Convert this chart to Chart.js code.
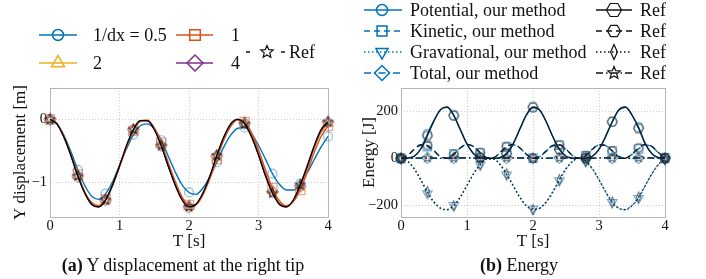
<!DOCTYPE html>
<html>
<head>
<meta charset="utf-8">
<script src="https://cdn.jsdelivr.net/npm/chart.js@4.4.1/dist/chart.umd.min.js"></script>
<style>
  html, body { margin: 0; padding: 0; background: #fff; }
  #wrap { position: relative; width: 706px; height: 279px; overflow: hidden; }
  .panel { position: absolute; top: 0; }
  .cap { position: absolute; top: 255px; font: 18px "Liberation Serif", "Times New Roman", serif;
         line-height: 20px; white-space: nowrap; transform: translateX(-50%); color: #111; }
</style>
</head>
<body>
<div id="wrap">
  <canvas id="dispChart" class="panel" width="355" height="279" style="left:0"></canvas>
  <canvas id="energyChart" class="panel" width="351" height="279" style="left:355px"></canvas>
  <div class="cap" style="left:183px"><b>(a)</b> Y displacement at the right tip</div>
  <div class="cap" style="left:519px"><b>(b)</b> Energy</div>
</div>
<script>
// time samples [s]
const times = [0, 0.1, 0.2, 0.3, 0.4, 0.5, 0.6, 0.7, 0.8, 0.9, 1.0, 1.1, 1.2, 1.3, 1.4, 1.5, 1.6, 1.7, 1.8, 1.9, 2.0,
  2.1, 2.2, 2.3, 2.4, 2.5, 2.6, 2.7, 2.8, 2.9, 3.0, 3.1, 3.2, 3.3, 3.4, 3.5, 3.6, 3.7, 3.8, 3.9, 4.0]
const xTicks = [0, 1, 2, 3, 4]
const dispTicks = [-1, 0]
const energyTicks = [-200, 0, 200]

// (a) Y displacement [m]
const dispDx05 = [0, -0.07, -0.25, -0.51, -0.8, -1.05, -1.22, -1.27, -1.18, -0.99, -0.73, -0.47, -0.24, -0.1,
  -0.07, -0.15, -0.33, -0.58, -0.83, -1.04, -1.16, -1.19, -1.09, -0.91, -0.68, -0.44, -0.25, -0.14,
  -0.13, -0.23, -0.41, -0.63, -0.86, -1.03, -1.12, -1.12, -1.02, -0.85, -0.64, -0.44, -0.27]
const dispDx1 = [0, -0.07, -0.27, -0.56, -0.87, -1.15, -1.32, -1.37, -1.27, -1.05, -0.75, -0.44, -0.18, -0.03,
  -0.01, -0.13, -0.37, -0.68, -0.98, -1.23, -1.36, -1.35, -1.2, -0.94, -0.63, -0.33, -0.11, 0,
  -0.04, -0.21, -0.48, -0.8, -1.09, -1.29, -1.37, -1.31, -1.12, -0.84, -0.53, -0.27, -0.1]
const dispDx2 = [0, -0.07, -0.28, -0.57, -0.89, -1.16, -1.34, -1.38, -1.28, -1.05, -0.75, -0.43, -0.17, -0.02,
  -0.01, -0.14, -0.4, -0.71, -1.01, -1.26, -1.38, -1.35, -1.19, -0.92, -0.6, -0.3, -0.09, 0,
  -0.05, -0.24, -0.52, -0.85, -1.13, -1.32, -1.38, -1.3, -1.08, -0.79, -0.47, -0.21, -0.06]
const dispDx4 = [0, -0.07, -0.28, -0.57, -0.9, -1.17, -1.35, -1.39, -1.28, -1.04, -0.74, -0.42, -0.16, -0.02,
  -0.02, -0.15, -0.41, -0.73, -1.03, -1.27, -1.39, -1.35, -1.18, -0.91, -0.58, -0.29, -0.08, 0,
  -0.06, -0.26, -0.55, -0.88, -1.15, -1.34, -1.39, -1.29, -1.06, -0.76, -0.44, -0.18, -0.04]
const dispRef = [0, -0.07, -0.28, -0.57, -0.9, -1.17, -1.35, -1.39, -1.28, -1.04, -0.74, -0.42, -0.16, -0.02,
  -0.02, -0.16, -0.42, -0.74, -1.04, -1.28, -1.39, -1.35, -1.17, -0.9, -0.57, -0.28, -0.07, 0,
  -0.07, -0.28, -0.57, -0.9, -1.17, -1.35, -1.39, -1.28, -1.04, -0.74, -0.42, -0.16, -0.04]

// (b) Energy [J]
const potentialOurs = [0, 1, 9, 41, 104, 162, 208, 218, 181, 121, 61, 20, 3, 0,
  0, 3, 20, 62, 125, 185, 216, 206, 156, 93, 40, 9, 1, 0,
  1, 9, 39, 94, 154, 205, 218, 184, 133, 64, 21, 3, 0]
const kineticOurs = [0, 12, 38, 56, 50, 31, 7, 1, 19, 44, 59, 50, 23, 3,
  3, 24, 48, 58, 44, 17, 1, 7, 31, 52, 56, 38, 12, 0,
  11, 38, 57, 54, 32, 8, 1, 17, 40, 57, 50, 24, 2]
const gravOurs = [0, -12, -45, -93, -150, -188, -213, -218, -200, -163, -115, -65, -28, -3,
  -3, -27, -70, -118, -166, -203, -215, -212, -187, -144, -95, -46, -13, 0,
  -14, -46, -92, -143, -188, -212, -218, -200, -170, -117, -67, -27, -5]
const totalOurs = [0, 0, 1, 1, 2, 1, 0, 0, 1, 1, 2, 1, 1, 0,
  0, 1, 1, 2, 1, 1, 0, 0, 1, 1, 2, 1, 0, 0,
  0, 1, 1, 2, 1, 0, 0, 1, 1, 2, 1, 1, 0]
const potentialRef = [0, 1, 9, 40, 96, 160, 208, 219, 184, 122, 61, 20, 3, 0,
  0, 3, 20, 62, 124, 185, 219, 207, 157, 92, 38, 9, 1, 0,
  1, 9, 38, 92, 157, 207, 219, 185, 128, 62, 20, 3, 0]
const kineticRef = [0, 12, 39, 58, 55, 32, 7, 1, 18, 45, 60, 51, 25, 3,
  3, 25, 51, 60, 45, 18, 1, 7, 32, 55, 58, 39, 12, 0,
  12, 39, 58, 55, 32, 7, 1, 18, 45, 60, 51, 25, 3]
const gravRef = [0, -12, -44, -91, -142, -186, -213, -219, -202, -165, -116, -66, -26, -3,
  -3, -26, -66, -116, -165, -202, -219, -213, -186, -142, -91, -44, -12, 0,
  -12, -44, -91, -142, -186, -213, -219, -202, -165, -116, -66, -26, -3]
const totalRef = [0, 0, 1, 2, 2, 1, 0, 0, 1, 2, 2, 2, 1, 0,
  0, 1, 2, 2, 2, 1, 0, 0, 1, 2, 2, 1, 0, 0,
  0, 1, 2, 2, 1, 0, 0, 1, 2, 2, 2, 1, 0]

const serif = '"Liberation Serif", "Times New Roman", serif'
const blue = '#0072BD', orange = '#D95319', yellow = '#EDB120', purple = '#7E2F8E'

// hollow marker shapes that Chart.js does not have
function glyph(kind, r, color, lw) {
  const c = document.createElement('canvas')
  const s = Math.ceil(2 * r + 2 * lw + 2)
  c.width = s
  c.height = s
  const g = c.getContext('2d')
  g.translate(s / 2, s / 2)
  g.strokeStyle = color
  g.lineWidth = lw
  g.beginPath()
  if (kind === 'star') {
    for (let i = 0; i < 10; i++) {
      const a = -Math.PI / 2 + i * Math.PI / 5
      const rr = i % 2 ? r * 0.45 : r
      g.lineTo(rr * Math.cos(a), rr * Math.sin(a))
    }
  } else if (kind === 'hex') {
    for (let i = 0; i < 6; i++) {
      const a = i * Math.PI / 3
      g.lineTo(r * Math.cos(a), r * Math.sin(a))
    }
  } else {
    g.moveTo(0, -r); g.lineTo(r * 0.45, 0); g.lineTo(0, r); g.lineTo(-r * 0.45, 0)
  }
  g.closePath()
  g.stroke()
  return c
}

function series(label, ys, o) {
  return {
    label,
    data: times.map((t, i) => ({ x: t, y: ys[i] })),
    borderColor: o.color,
    borderWidth: o.width || 1.4,
    borderDash: o.dash || [],
    cubicInterpolationMode: 'monotone',
    pointStyle: o.marker,
    pointRotation: o.rot || 0,
    pointRadius: ctx => (ctx.dataIndex % 4 === 0 ? o.r : 0),
    pointHoverRadius: 0,
    pointBorderColor: o.markColor,
    pointBackgroundColor: 'rgba(0,0,0,0)',
    pointBorderWidth: 1.2,
    order: o.order,
    clip: false
  }
}

function axes(yMin, yMax, yTicks, yTitle, yWidth, yTitlePad) {
  const tickFont = { family: serif, size: 14.5 }
  const titleFont = { family: serif, size: 17 }
  return {
    x: {
      type: 'linear', min: 0, max: 4,
      afterBuildTicks: s => { s.ticks = xTicks.map(v => ({ value: v })) },
      afterFit: s => { s.height = 35 },
      ticks: { color: '#111', font: tickFont, padding: 0, maxRotation: 0 },
      grid: { color: 'rgba(0,0,0,0.2)', drawTicks: false },
      border: { display: false, dash: [1, 2] },
      title: { display: true, text: 'T [s]', color: '#111', font: titleFont, padding: 0 }
    },
    y: {
      type: 'linear', min: yMin, max: yMax,
      afterBuildTicks: s => { s.ticks = yTicks.map(v => ({ value: v })) },
      afterFit: s => { s.width = yWidth },
      ticks: {
        color: '#111', font: tickFont, padding: 3,
        callback: v => (v < 0 ? '\u2212' + Math.abs(v) : String(v))
      },
      grid: { color: 'rgba(0,0,0,0.2)', drawTicks: false },
      border: { display: false, dash: [1, 2] },
      title: { display: true, text: yTitle, color: '#111', font: titleFont, padding: { top: yTitlePad, bottom: 0 } }
    }
  }
}

const frame = {
  id: 'frame',
  beforeDatasetsDraw(chart) {
    const { ctx, chartArea: a } = chart
    ctx.save()
    ctx.strokeStyle = '#b5b5b5'
    ctx.lineWidth = 1
    ctx.strokeRect(Math.round(a.left) + 0.5, Math.round(a.top) + 0.5,
      Math.round(a.right - a.left), Math.round(a.bottom - a.top))
    ctx.restore()
  }
}

// legend drawn at fixed spots, styles come from the datasets
function legend(entries) {
  return {
    id: 'panelLegend',
    afterDraw(chart) {
      const ctx = chart.ctx
      entries.forEach(e => {
        const ds = chart.data.datasets[e.ds]
        ctx.save()
        ctx.strokeStyle = e.color
        ctx.lineWidth = 1.5
        ctx.setLineDash(e.dash || ds.borderDash || [])
        e.segs.forEach(([a, b]) => {
          ctx.beginPath(); ctx.moveTo(a, e.y); ctx.lineTo(b, e.y); ctx.stroke()
        })
        ctx.setLineDash([])
        ctx.fillStyle = 'rgba(0,0,0,0)'
        Chart.helpers.drawPoint(ctx, { pointStyle: e.marker, radius: e.r, rotation: e.rot || 0, borderWidth: 1.2 }, e.mx, e.y)
        ctx.fillStyle = '#111'
        ctx.font = '18px ' + serif
        ctx.textBaseline = 'middle'
        ctx.fillText(e.text, e.tx, e.y + 1)
        ctx.restore()
      })
    }
  }
}

const refStar = glyph('star', 5, 'rgba(0,0,0,0.75)', 1.1)
new Chart(document.getElementById('dispChart'), {
  type: 'line',
  data: {
    datasets: [
      series('Ref', dispRef, { color: '#000', width: 1.3, markColor: refStar, marker: refStar, r: 5, order: 0 }),
      series('1', dispDx1, { color: orange, markColor: 'rgba(217,83,25,0.5)', marker: 'rect', r: 6.5, order: 1 }),
      series('4', dispDx4, { color: purple, markColor: 'rgba(126,47,142,0.45)', marker: 'rectRot', r: 6, order: 2 }),
      series('2', dispDx2, { color: yellow, markColor: 'rgba(237,177,32,0.55)', marker: 'triangle', r: 6, order: 3 }),
      series('1/dx = 0.5', dispDx05, { color: blue, markColor: 'rgba(0,114,189,0.45)', marker: 'circle', r: 4.5, order: 4 })
    ]
  },
  options: {
    responsive: false,
    animation: false,
    layout: { padding: { left: 0, right: 27, top: 88, bottom: 27 } },
    plugins: { legend: { display: false }, tooltip: { enabled: false } },
    scales: axes(-1.55, 0.5, dispTicks, 'Y displacement [m]', 50, 10)
  },
  plugins: [frame, legend([
    { ds: 4, color: blue, segs: [[39, 77]], marker: 'circle', r: 5.5, mx: 58, y: 35, tx: 93, text: '1/dx = 0.5' },
    { ds: 1, color: orange, segs: [[176, 213]], marker: 'rect', r: 7.5, mx: 195, y: 35, tx: 231, text: '1' },
    { ds: 3, color: yellow, segs: [[39, 77]], marker: 'triangle', r: 7.5, mx: 58, y: 63, tx: 93, text: '2' },
    { ds: 2, color: purple, segs: [[176, 213]], marker: 'rectRot', r: 8, mx: 195, y: 63, tx: 231, text: '4' },
    { ds: 0, color: '#111', segs: [[246, 250], [281, 285]], marker: glyph('star', 6.5, '#111', 1.2), r: 6.5, mx: 267, y: 52, tx: 289, text: 'Ref' }
  ])]
})

const oursMark = 'rgba(0,114,189,0.55)'
const refMark = 'rgba(40,40,40,0.7)'
const dashK = [6, 4], dotG = [1.5, 2.5], dashT = [7, 3, 1.5, 3]
new Chart(document.getElementById('energyChart'), {
  type: 'line',
  data: {
    datasets: [
      series('Potential, our method', potentialOurs, { color: blue, markColor: oursMark, marker: 'circle', r: 4.5, order: 4 }),
      series('Kinetic, our method', kineticOurs, { color: blue, dash: dashK, markColor: oursMark, marker: 'rect', r: 6, order: 5 }),
      series('Gravational, our method', gravOurs, { color: blue, dash: dotG, markColor: oursMark, marker: 'triangle', rot: 180, r: 5.5, order: 6 }),
      series('Total, our method', totalOurs, { color: blue, dash: dashT, markColor: oursMark, marker: 'rectRot', r: 5.5, order: 7 }),
      series('Ref', potentialRef, { color: '#0d1b2a', width: 1.3, markColor: refMark, marker: glyph('hex', 5, refMark, 1.1), r: 5, order: 0 }),
      series('Ref', kineticRef, { color: '#0d1b2a', width: 1.3, dash: dashK, markColor: refMark, marker: glyph('hex', 4.5, refMark, 1.1), r: 4.5, order: 1 }),
      series('Ref', gravRef, { color: '#0d1b2a', width: 1.3, dash: dotG, markColor: refMark, marker: glyph('thin', 5, refMark, 1.1), r: 5, order: 2 }),
      series('Ref', totalRef, { color: '#0d1b2a', width: 1.3, dash: dashT, markColor: refMark, marker: glyph('star', 4.5, refMark, 1.1), r: 4.5, order: 3 })
    ]
  },
  options: {
    responsive: false,
    animation: false,
    layout: { padding: { left: 0, right: 41, top: 88, bottom: 27 } },
    plugins: { legend: { display: false }, tooltip: { enabled: false } },
    scales: axes(-250, 300, energyTicks, 'Energy [J]', 46, 4)
  },
  plugins: [frame, legend([
    { ds: 0, color: blue, segs: [[9, 47]], marker: 'circle', r: 5.5, mx: 27, y: 10, tx: 55, text: 'Potential, our method' },
    { ds: 1, color: blue, segs: [[9, 47]], marker: 'rect', r: 7, mx: 27, y: 31, tx: 55, text: 'Kinetic, our method' },
    { ds: 2, color: blue, segs: [[9, 47]], marker: 'triangle', rot: 180, r: 7, mx: 27, y: 52, tx: 55, text: 'Gravational, our method' },
    { ds: 3, color: blue, segs: [[9, 47]], marker: 'rectRot', r: 7.5, mx: 27, y: 73, tx: 55, text: 'Total, our method' },
    { ds: 4, color: '#111', segs: [[241, 277]], marker: glyph('hex', 7.5, '#111', 1.2), r: 7.5, mx: 259, y: 10, tx: 285, text: 'Ref' },
    { ds: 5, color: '#111', segs: [[241, 277]], marker: glyph('hex', 6.5, '#111', 1.2), r: 6.5, mx: 259, y: 31, tx: 285, text: 'Ref' },
    { ds: 6, color: '#111', segs: [[241, 277]], marker: glyph('thin', 7.5, '#111', 1.2), r: 7.5, mx: 259, y: 52, tx: 285, text: 'Ref' },
    { ds: 7, color: '#111', segs: [[241, 277]], marker: glyph('star', 6.5, '#111', 1.2), r: 6.5, mx: 259, y: 73, tx: 285, text: 'Ref' }
  ])]
})
</script>
</body>
</html>
